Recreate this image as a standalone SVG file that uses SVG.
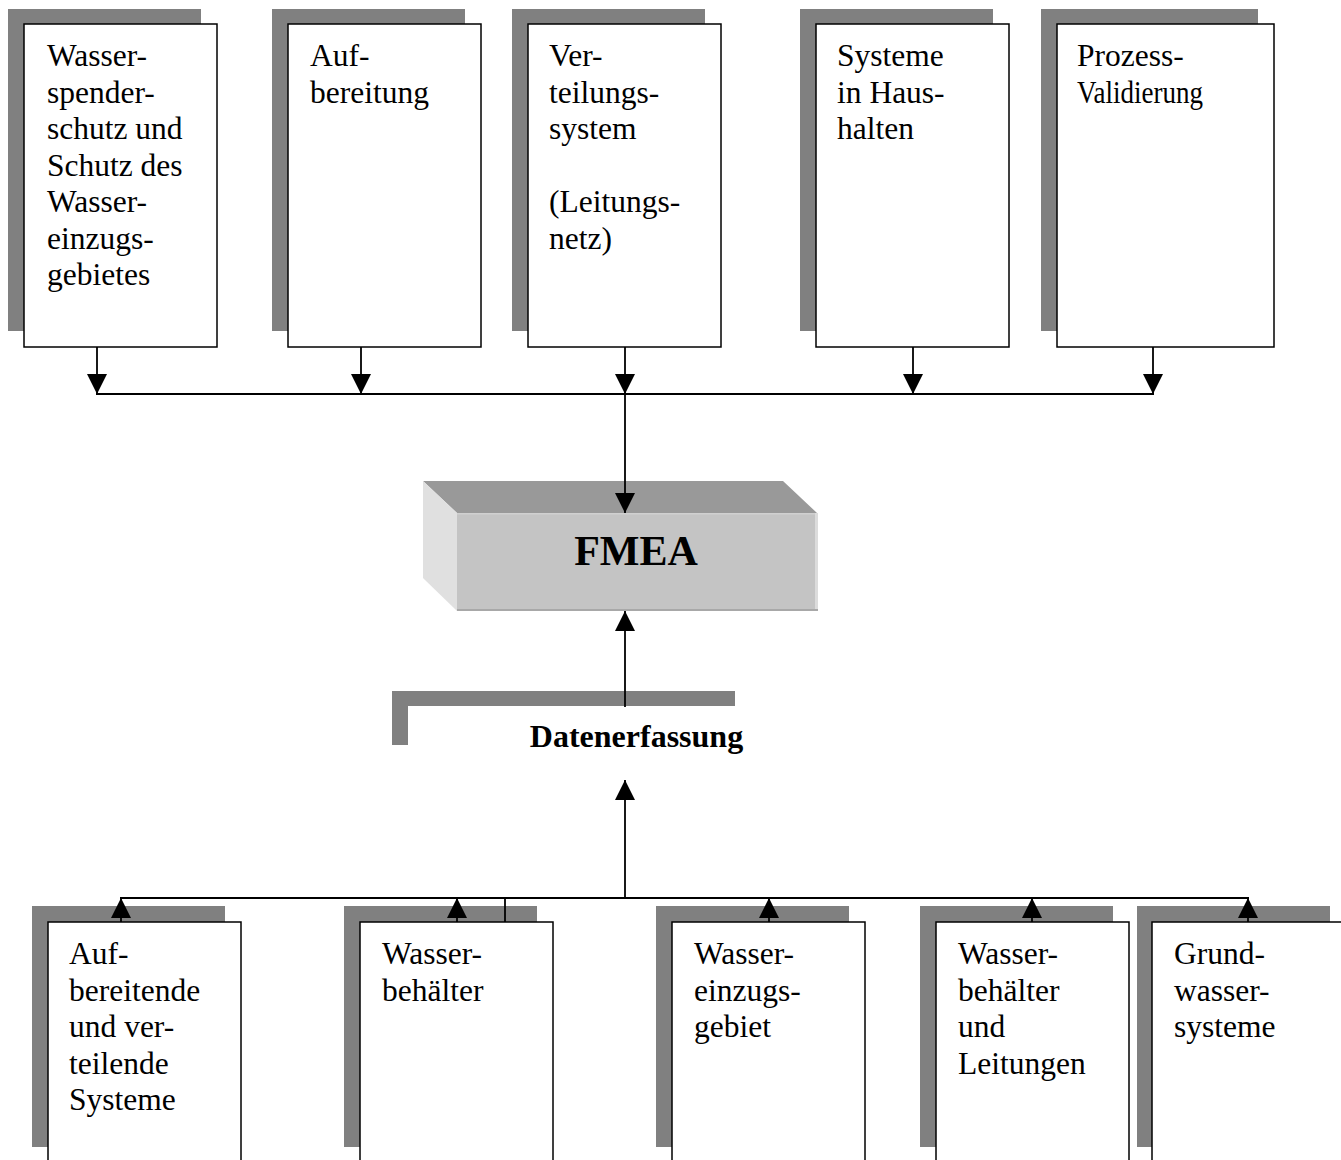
<svg xmlns="http://www.w3.org/2000/svg" width="1341" height="1160" viewBox="0 0 1341 1160">
<style>
.shadow{fill:#808080}
.box{fill:#ffffff;stroke:#000000;stroke-width:1.5}
.lbl{font-family:"Liberation Serif","Times New Roman",serif;font-size:31.5px;fill:#000000}
.bold{font-family:"Liberation Serif","Times New Roman",serif;font-weight:bold;fill:#000000}
.conn{fill:none;stroke:#000000;stroke-width:1.8}
</style>
<defs>
<marker id="arr" viewBox="0 0 20 20" refX="20" refY="10" markerWidth="20" markerHeight="20" markerUnits="userSpaceOnUse" orient="auto">
<path d="M0,0 L20,10 L0,20 z" fill="#000000"/>
</marker>
</defs>
<rect x="0" y="0" width="1341" height="1160" fill="#ffffff"/>

<!-- top nodes -->
<g id="top1">
<rect class="shadow" x="8" y="9" width="193" height="322"/>
<rect class="box" x="24" y="24" width="193" height="323"/>
<text class="lbl"><tspan x="47" y="66">Wasser-</tspan><tspan x="47" y="102.5">spender-</tspan><tspan x="47" y="139">schutz und</tspan><tspan x="47" y="175.5">Schutz des</tspan><tspan x="47" y="212">Wasser-</tspan><tspan x="47" y="248.5">einzugs-</tspan><tspan x="47" y="285">gebietes</tspan></text>
</g>
<g id="top2">
<rect class="shadow" x="272" y="9" width="193" height="322"/>
<rect class="box" x="288" y="24" width="193" height="323"/>
<text class="lbl"><tspan x="310" y="66">Auf-</tspan><tspan x="310" y="102.5">bereitung</tspan></text>
</g>
<g id="top3">
<rect class="shadow" x="512" y="9" width="193" height="322"/>
<rect class="box" x="528" y="24" width="193" height="323"/>
<text class="lbl"><tspan x="549" y="66">Ver-</tspan><tspan x="549" y="102.5">teilungs-</tspan><tspan x="549" y="139">system</tspan><tspan x="549" y="212">(Leitungs-</tspan><tspan x="549" y="248.5">netz)</tspan></text>
</g>
<g id="top4">
<rect class="shadow" x="800" y="9" width="193" height="322"/>
<rect class="box" x="816" y="24" width="193" height="323"/>
<text class="lbl"><tspan x="837" y="66">Systeme</tspan><tspan x="837" y="102.5">in Haus-</tspan><tspan x="837" y="139">halten</tspan></text>
</g>
<g id="top5">
<rect class="shadow" x="1041" y="9" width="217" height="322"/>
<rect class="box" x="1057" y="24" width="217" height="323"/>
<text class="lbl" x="1077" y="66">Prozess-</text>
<text class="lbl" x="1077" y="102.5" textLength="126" lengthAdjust="spacingAndGlyphs">Validierung</text>
</g>

<!-- FMEA -->
<g id="fmea">
<polygon points="423,481 783,481 817,513 457,513" fill="#999999"/>
<polygon points="423,481 457,513 457,611 423,578" fill="#e0e0e0"/>
<rect x="457" y="513" width="361" height="98" fill="#c4c4c4"/>
<rect x="457" y="513" width="361" height="1.5" fill="#d0d0d0"/>
<rect x="815" y="513" width="3" height="98" fill="#dcdcdc"/>
<rect x="457" y="609" width="361" height="2" fill="#a8a8a8"/>
<text class="bold" x="636" y="565" font-size="42" text-anchor="middle">FMEA</text>
</g>

<!-- Datenerfassung -->
<g id="daten">
<polygon class="shadow" points="392,691 735,691 735,706 408,706 408,745 392,745"/>
<text class="bold" x="636.5" y="747" font-size="32" text-anchor="middle">Datenerfassung</text>
</g>

<!-- bottom nodes -->
<g id="bot1">
<rect class="shadow" x="32" y="906" width="193" height="241"/>
<rect class="box" x="48" y="922" width="193" height="260"/>
<text class="lbl"><tspan x="69" y="964">Auf-</tspan><tspan x="69" y="1000.5">bereitende</tspan><tspan x="69" y="1037">und ver-</tspan><tspan x="69" y="1073.5">teilende</tspan><tspan x="69" y="1110">Systeme</tspan></text>
</g>
<g id="bot2">
<rect class="shadow" x="344" y="906" width="193" height="241"/>
<rect class="box" x="360" y="922" width="193" height="260"/>
<text class="lbl"><tspan x="382" y="964">Wasser-</tspan><tspan x="382" y="1000.5">behälter</tspan></text>
</g>
<g id="bot3">
<rect class="shadow" x="656" y="906" width="193" height="241"/>
<rect class="box" x="672" y="922" width="193" height="260"/>
<text class="lbl"><tspan x="694" y="964">Wasser-</tspan><tspan x="694" y="1000.5">einzugs-</tspan><tspan x="694" y="1037">gebiet</tspan></text>
</g>
<g id="bot4">
<rect class="shadow" x="920" y="906" width="193" height="241"/>
<rect class="box" x="936" y="922" width="193" height="260"/>
<text class="lbl"><tspan x="958" y="964">Wasser-</tspan><tspan x="958" y="1000.5">behälter</tspan><tspan x="958" y="1037">und</tspan><tspan x="958" y="1073.5">Leitungen</tspan></text>
</g>
<g id="bot5">
<rect class="shadow" x="1137" y="906" width="193" height="241"/>
<rect class="box" x="1152" y="922" width="193" height="260"/>
<text class="lbl"><tspan x="1174" y="964">Grund-</tspan><tspan x="1174" y="1000.5">wasser-</tspan><tspan x="1174" y="1037">systeme</tspan></text>
</g>

<!-- connectors -->
<g id="connectors">
<line class="conn" x1="97" y1="347" x2="97" y2="394" marker-end="url(#arr)"/>
<line class="conn" x1="361" y1="347" x2="361" y2="394" marker-end="url(#arr)"/>
<line class="conn" x1="625" y1="347" x2="625" y2="394" marker-end="url(#arr)"/>
<line class="conn" x1="913" y1="347" x2="913" y2="394" marker-end="url(#arr)"/>
<line class="conn" x1="1153" y1="347" x2="1153" y2="394" marker-end="url(#arr)"/>
<line class="conn" x1="96" y1="394" x2="1154" y2="394"/>
<line class="conn" x1="625" y1="394" x2="625" y2="513" marker-end="url(#arr)"/>
<line class="conn" x1="625" y1="707" x2="625" y2="611" marker-end="url(#arr)"/>
<line class="conn" x1="625" y1="898" x2="625" y2="780" marker-end="url(#arr)"/>
<line class="conn" x1="120" y1="898" x2="1249" y2="898"/>
<line class="conn" x1="121" y1="922" x2="121" y2="898" marker-end="url(#arr)"/>
<line class="conn" x1="457" y1="922" x2="457" y2="898" marker-end="url(#arr)"/>
<line class="conn" x1="505" y1="922" x2="505" y2="898"/>
<line class="conn" x1="769" y1="922" x2="769" y2="898" marker-end="url(#arr)"/>
<line class="conn" x1="1032" y1="922" x2="1032" y2="898" marker-end="url(#arr)"/>
<line class="conn" x1="1248" y1="922" x2="1248" y2="898" marker-end="url(#arr)"/>
</g>
</svg>
